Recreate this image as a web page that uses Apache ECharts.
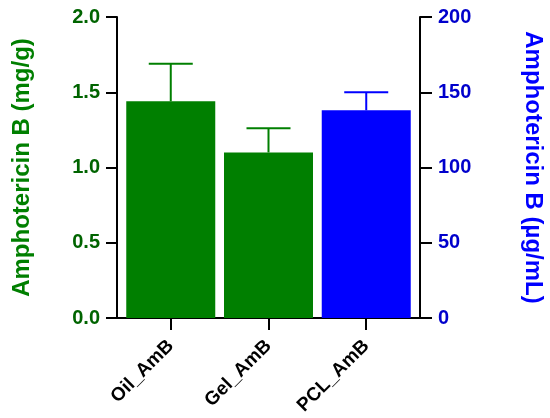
<!DOCTYPE html>
<html><head><meta charset="utf-8">
<script src="https://cdn.jsdelivr.net/npm/echarts@6/dist/echarts.min.js"></script>
<style>html,body{margin:0;padding:0;background:#fff}#c{width:550px;height:418px}</style>
</head><body><div id="c"></div>
<script>
const categories = ['Oil_AmB', 'Gel_AmB', 'PCL_AmB'];
const leftValues = [1.44, 1.10, null];     // mg/g
const leftErrors = [0.25, 0.16, null];
const rightValues = [null, null, 138];     // µg/mL
const rightErrors = [null, null, 12];
const leftTicks = [0, 0.5, 1.0, 1.5, 2.0];
const rightTicks = [0, 50, 100, 150, 200];

const GREEN = '#007f00', BLUE = '#0000ff';
const FONT = 'Liberation Sans, Arial, sans-serif';
const BAR_W = 89, CAP_HALF = 22;

const idx = categories.map((c, i) => i);

function barRender(vals, errs, color) {
  return function (params, api) {
    const i = api.value(0);
    const v = vals[i], e = errs[i];
    if (v == null) return null;
    const p0 = api.coord([i, 0]);
    const p1 = api.coord([i, v]);
    const top = api.coord([i, v + e]);
    const st = { stroke: color, lineWidth: 2 };
    return { type: 'group', children: [
      { type: 'rect', shape: { x: p1[0] - BAR_W / 2, y: p1[1], width: BAR_W, height: p0[1] - p1[1] }, style: { fill: color } },
      { type: 'line', shape: { x1: p1[0], y1: p1[1], x2: top[0], y2: top[1] }, style: st },
      { type: 'line', shape: { x1: top[0] - CAP_HALF, y1: top[1], x2: top[0] + CAP_HALF, y2: top[1] }, style: st }
    ]};
  };
}

const chart = echarts.init(document.getElementById('c'));
chart.setOption({
  animation: false,
  grid: { left: 117, right: 130, top: 17, bottom: 100, containLabel: false, outerBoundsMode: 'none' },
  xAxis: {
    type: 'value', min: -0.55, max: 2.55,
    splitLine: { show: false },
    axisLine: { show: true, onZero: false, lineStyle: { color: '#000', width: 2 } },
    axisTick: { show: true, customValues: idx, length: 12, lineStyle: { color: '#000', width: 2 } },
    axisLabel: { customValues: idx, rotate: 45, margin: 25, color: '#000', fontWeight: 'bold', fontSize: 19, fontFamily: FONT,
      formatter: v => categories[Math.round(v)] || '' }
  },
  yAxis: [{
    type: 'value', min: 0, max: 2, interval: 0.5,
    name: 'Amphotericin B (mg/g)', nameLocation: 'middle', nameGap: 83,
    nameTextStyle: { color: GREEN, fontWeight: 'bold', fontSize: 24, fontFamily: FONT },
    axisLine: { show: true, onZero: false, lineStyle: { color: '#000', width: 2 } },
    axisTick: { show: true, length: 11, lineStyle: { color: '#000', width: 2 } },
    splitLine: { show: false },
    axisLabel: { color: '#006400', fontWeight: 'bold', fontSize: 20, fontFamily: FONT, margin: 17,
      formatter: v => leftTicks.includes(v) ? v.toFixed(1) : '' }
  }, {
    type: 'value', min: 0, max: 200, interval: 50, position: 'right',
    name: 'Amphotericin B (µg/mL)', nameLocation: 'middle', nameGap: 101, nameRotate: -90,
    nameTextStyle: { color: BLUE, fontWeight: 'bold', fontSize: 24, fontFamily: FONT },
    axisLine: { show: true, onZero: false, lineStyle: { color: '#000', width: 2 } },
    axisTick: { show: true, length: 12, lineStyle: { color: '#000', width: 2 } },
    splitLine: { show: false },
    axisLabel: { color: '#0000cc', fontWeight: 'bold', fontSize: 20, fontFamily: FONT, margin: 18,
      formatter: v => rightTicks.includes(v) ? String(v) : '' }
  }],
  series: [
    { type: 'custom', yAxisIndex: 0, data: idx.map(i => [i, leftValues[i]]), renderItem: barRender(leftValues, leftErrors, GREEN) },
    { type: 'custom', yAxisIndex: 1, data: idx.map(i => [i, rightValues[i]]), renderItem: barRender(rightValues, rightErrors, BLUE) }
  ]
});
</script></body></html>
